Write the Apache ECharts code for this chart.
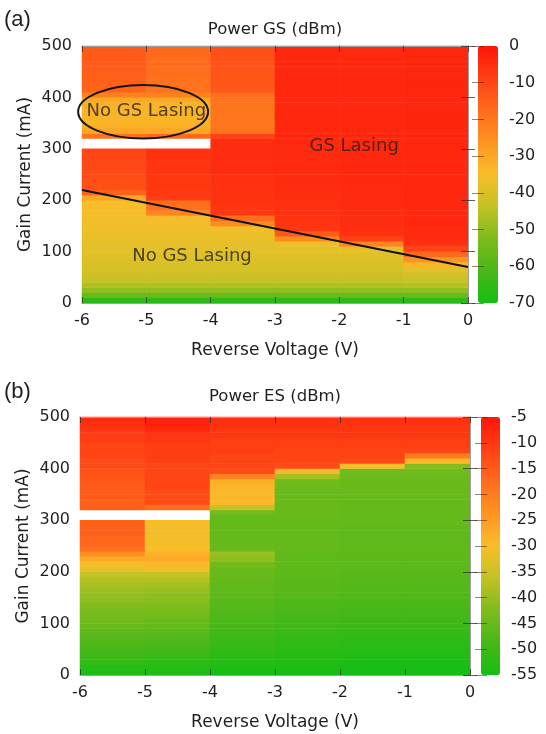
<!DOCTYPE html>
<html>
<head>
<meta charset="utf-8">
<script src="https://cdn.jsdelivr.net/npm/echarts@6/dist/echarts.min.js"></script>
<style>
  html, body { margin: 0; padding: 0; background: #ffffff; }
  #chart { width: 546px; height: 734px; }
</style>
</head>
<body>
<div id="chart"></div>
<script>
// Reverse-voltage columns (each block spans one volt, starting at the listed value)
const voltageCols = ['-6', '-5', '-4', '-3', '-2', '-1'];
// Gain-current rows, 10 mA steps (lower edge of each row)
const currentRows = [0, 10, 20, 30, 40, 50, 60, 70, 80, 90,
  100, 110, 120, 130, 140, 150, 160, 170, 180, 190,
  200, 210, 220, 230, 240, 250, 260, 270, 280, 290,
  300, 310, 320, 330, 340, 350, 360, 370, 380, 390,
  400, 410, 420, 430, 440, 450, 460, 470, 480, 490];

// Tick labels
const voltageTicks = [-6, -5, -4, -3, -2, -1, 0];
const currentTicks = [0, 100, 200, 300, 400, 500];
const gsScaleTicks = [-70, -60, -50, -40, -30, -20, -10, 0];
const esScaleTicks = [-55, -50, -45, -40, -35, -30, -25, -20, -15, -10, -5];

// Ground-state power (dBm), one array per voltage column, rows 0..490 mA (null = not measured)
const gsPowerM6 = [-66, -56, -50, -46, -43.5, -42, -41, -40, -39.5, -39,
  -38.5, -38, -37.5, -37, -36.5, -36.5, -36, -35.5, -35, -35,
  -30, -16, -12, -11.5, -11, -11, -10.5, -10.5, -10, -10,
  null, null, -19, -30, -32, -33, -33, -33, -32, -31,
  -22, -16, -15.5, -15, -15, -14.5, -14.5, -14, -14, -13.5];
const gsPowerM5 = [-66, -56, -50, -46, -43.5, -42, -41, -40, -39.5, -39,
  -38.5, -38, -37.5, -37, -36.5, -36, -35.5, -23, -19, -18,
  -8, -7.5, -7, -7, -7, -6.5, -6.5, -6.5, -6, -6,
  null, null, -17, -30, -32, -33, -33, -33, -32, -31,
  -22, -19, -19, -18.5, -18, -18, -17.5, -17.5, -17, -17];
const gsPowerM4 = [-66, -56, -50, -46, -43.5, -42, -41, -40, -39.5, -39,
  -38.5, -38, -37.5, -37, -36, -24, -18, -7, -6.5, -6,
  -6, -6, -5.5, -5.5, -5.5, -5, -5, -5, -5, -5,
  -5, -5, -9, -19, -20, -20, -20, -20, -19.5, -19,
  -18, -13.5, -13, -13, -13, -12.5, -12.5, -12, -12, -12];
const gsPowerM3 = [-66, -56, -50, -46, -43.5, -42, -41, -40, -39.5, -39,
  -38, -37, -24, -14, -7, -6.5, -6, -6, -5.5, -5.5,
  -5, -5, -5, -5, -4.5, -4.5, -4.5, -4.5, -4.5, -4.5,
  -4.5, -4, -4, -4, -4, -4, -4, -4, -4, -4,
  -4, -4, -4, -4, -4, -4, -4, -4, -4, -4];
const gsPowerM2 = [-66, -56, -50, -46, -43.5, -42, -41, -40, -39.5, -38.5,
  -37.5, -23, -9, -6, -5.5, -5, -5, -5, -4.5, -4.5,
  -4.5, -4.5, -4.5, -4, -4, -4, -4, -4, -4, -4,
  -4, -4, -4, -4, -4, -4, -4, -4, -4, -4,
  -4, -4, -4, -4, -4, -4, -4, -4, -4.5, -4.5];
const gsPowerM1 = [-66, -56, -50, -45.5, -43, -41, -38.5, -33, -26, -17,
  -9, -6, -5, -4.5, -4.5, -4, -4, -4, -4, -4,
  -4, -4, -4, -4, -4, -4, -4, -4, -4, -4,
  -3.5, -3.5, -3.5, -3.5, -3.5, -3.5, -3.5, -3.5, -3.5, -3.5,
  -3.5, -3.5, -3.5, -3.5, -3.5, -3.5, -3.5, -3.5, -3.5, -3.5];

// Excited-state power (dBm)
const esPowerM6 = [-54, -53, -51.5, -50.5, -49.5, -48.5, -47.5, -47, -46, -45,
  -44, -43.5, -43, -42, -41, -40.5, -39.5, -38.5, -37.5, -36,
  -32, -30, -27, -23, -18, -17, -17, -16, -16, -16,
  null, null, -16, -16, -15, -15, -15, -15, -14, -14,
  -13, -13, -12, -12, -12, -11, -11, -10, -9, -8];
const esPowerM5 = [-54, -53, -52, -51, -50, -49, -48, -47.5, -46.5, -45.5,
  -45, -44, -43, -42.5, -41.5, -41, -40, -39, -37.5, -36,
  -31, -29, -27, -28, -30, -30.5, -30.5, -30.5, -30.5, -30,
  null, null, -18, -13, -13, -13, -12, -12, -12, -12,
  -12, -11, -11, -11, -11, -10, -10, -8, -7, -7];
const esPowerM4 = [-54.5, -54, -53, -52, -51.5, -51, -50.5, -50, -49.5, -49,
  -48.5, -48, -47.5, -47, -47, -46.5, -46, -46, -45.5, -45,
  -45, -44, -41, -40, -45, -45.5, -45.5, -45.5, -45.5, -45.5,
  -45.5, -44, -36, -29, -29, -29, -29, -28, -21, -13,
  -12, -12, -12, -11, -11, -11, -10, -10, -9, -9];
const esPowerM3 = [-54.5, -54, -53.5, -53, -52.5, -52, -51.5, -51, -50.5, -50,
  -49.5, -49, -48.5, -48, -48, -47.5, -47, -47, -46.5, -46.5,
  -46, -46, -46, -46, -45.5, -45.5, -45.5, -45.5, -45.5, -45.5,
  -45, -45, -45, -45, -45, -45, -44.5, -44, -39, -29,
  -13, -12, -12, -12, -11, -11, -10, -10, -9, -9];
const esPowerM2 = [-55, -54.5, -54, -53.5, -53, -52.5, -52, -51.5, -51, -50.5,
  -50, -49.5, -49, -48.5, -48, -48, -47.5, -47.5, -47, -47,
  -46.5, -46.5, -46.5, -46, -46, -46, -46, -46, -46, -45.5,
  -45.5, -45.5, -45.5, -45.5, -45, -45, -45, -45, -44.5, -44,
  -30, -13, -12, -12, -11, -11, -10, -10, -9.5, -9];
const esPowerM1 = [-55, -54.5, -54, -53.5, -53, -52.5, -52, -51.5, -51, -50.5,
  -50, -49.5, -49, -48.5, -48, -48, -47.5, -47.5, -47, -47,
  -46.5, -46.5, -46.5, -46, -46, -46, -46, -46, -46, -45.5,
  -45.5, -45.5, -45.5, -45.5, -45, -45, -45, -45, -44.5, -44,
  -42, -29, -20, -12, -11, -11, -10, -10, -9.5, -9];

// Lasing threshold boundary (V, mA) and region annotations
const thresholdLine = [[-6, 220], [0, 70]];
const noLasingEllipse = [[-5.05, 372, 1.01, 52]]; // centre V, centre mA, half-width V, half-height mA
const regionLabels = [
  { name: 'No GS Lasing', value: [-5.0, 372] },
  { name: 'GS Lasing', value: [-1.77, 305] },
  { name: 'No GS Lasing', value: [-4.29, 90] }
];

const gsColumns = [gsPowerM6, gsPowerM5, gsPowerM4, gsPowerM3, gsPowerM2, gsPowerM1];
const esColumns = [esPowerM6, esPowerM5, esPowerM4, esPowerM3, esPowerM2, esPowerM1];

function toCells(columns) {
  const cells = [];
  columns.forEach((col, i) => {
    col.forEach((v, j) => {
      cells.push([i, j, v === null ? '-' : v]);
    });
  });
  return cells;
}

const FONT = 'DejaVu Sans';
const TXT = '#1f1f1f';
// green -> yellow -> orange -> red scale
const palette = ['#14be14', '#49b718', '#7dbc1d', '#c2c224', '#f8be2a',
                 '#fd9421', '#ff6c1c', '#ff4013', '#ff140a'];

const tickStyle = { color: 'rgba(45,45,45,0.75)', width: 1 };
const frameLine = { show: true, lineStyle: { color: '#a0a0a0', width: 1 } };
const labelStyle = { fontFamily: FONT, fontSize: 16, color: TXT };
const nameStyle = { fontFamily: FONT, fontSize: 17, color: TXT };

function catAxis(grid, data) {
  return { type: 'category', gridIndex: grid, data: data, show: false, boundaryGap: true };
}
function voltAxis(grid, pos, withLabels) {
  return {
    type: 'value', gridIndex: grid, position: pos, min: voltageTicks[0],
    max: voltageTicks[voltageTicks.length - 1], interval: 1, z: 10,
    axisLine: frameLine,
    axisTick: { show: true, inside: true, length: 6, lineStyle: tickStyle },
    axisLabel: Object.assign({ show: withLabels, margin: 10 }, labelStyle),
    splitLine: { show: false },
    name: withLabels ? 'Reverse Voltage (V)' : '',
    nameLocation: 'middle', nameGap: 39, nameMoveOverlap: false, nameTextStyle: nameStyle
  };
}
function currentAxis(grid, pos, withLabels) {
  return {
    type: 'value', gridIndex: grid, position: pos, min: currentTicks[0],
    max: currentTicks[currentTicks.length - 1], interval: 100, z: 10,
    axisLine: frameLine,
    axisTick: { show: true, inside: true, length: 7, lineStyle: tickStyle },
    axisLabel: Object.assign({ show: withLabels, margin: 10 }, labelStyle),
    splitLine: { show: false },
    name: withLabels ? 'Gain Current (mA)' : '',
    nameLocation: 'middle', nameGap: 48, nameRotate: 90, nameMoveOverlap: false, nameTextStyle: nameStyle
  };
}
function scaleAxis(grid, pos, ticks, withLabels) {
  return {
    type: 'value', gridIndex: grid, position: pos, min: ticks[0],
    max: ticks[ticks.length - 1], interval: ticks[1] - ticks[0], z: 10,
    axisLine: { show: false },
    axisTick: { show: true, inside: true, length: 6, lineStyle: { color: 'rgba(70,30,10,0.55)', width: 1 } },
    axisLabel: Object.assign({ show: withLabels, margin: 11 }, labelStyle),
    splitLine: { show: false }
  };
}
function hiddenAxis(grid) {
  return { type: 'value', gridIndex: grid, show: false, min: 0, max: 1 };
}

const chart = echarts.init(document.getElementById('chart'), null, { renderer: 'canvas' });

chart.setOption({
  animation: false,
  backgroundColor: '#ffffff',
  grid: [
    { left: 82, top: 46, width: 386, height: 257 },
    { left: 478, top: 46, width: 20, height: 257 },
    { left: 80, top: 417, width: 390, height: 258 },
    { left: 481, top: 417, width: 19, height: 258 }
  ],
  xAxis: [
    catAxis(0, voltageCols),
    voltAxis(0, 'bottom', true),
    voltAxis(0, 'top', false),
    hiddenAxis(1),
    catAxis(2, voltageCols),
    voltAxis(2, 'bottom', true),
    voltAxis(2, 'top', false),
    hiddenAxis(3)
  ],
  yAxis: [
    catAxis(0, currentRows),
    currentAxis(0, 'left', true),
    currentAxis(0, 'right', false),
    scaleAxis(1, 'right', gsScaleTicks, true),
    scaleAxis(1, 'left', gsScaleTicks, false),
    catAxis(2, currentRows),
    currentAxis(2, 'left', true),
    currentAxis(2, 'right', false),
    scaleAxis(3, 'right', esScaleTicks, true),
    scaleAxis(3, 'left', esScaleTicks, false)
  ],
  visualMap: [
    {
      type: 'continuous', seriesIndex: 0, min: gsScaleTicks[0], max: gsScaleTicks[gsScaleTicks.length - 1],
      left: 478, top: 46, itemWidth: 20, itemHeight: 257, padding: 0,
      calculable: false, realtime: false, text: null, hoverLink: false,
      inRange: { color: palette }
    },
    {
      type: 'continuous', seriesIndex: 4, min: esScaleTicks[0], max: esScaleTicks[esScaleTicks.length - 1],
      left: 481, top: 417, itemWidth: 19, itemHeight: 258, padding: 0,
      calculable: false, realtime: false, text: null, hoverLink: false,
      inRange: { color: palette }
    }
  ],
  graphic: [
    { type: 'text', x: 4, y: 20, style: { text: '(a)', font: '22px "Liberation Sans"', fill: TXT, verticalAlign: 'middle' } },
    { type: 'text', x: 275, y: 30, style: { text: 'Power GS (dBm)', font: '16.5px "DejaVu Sans"', fill: TXT, align: 'center', verticalAlign: 'middle' } },
    { type: 'text', x: 4, y: 392, style: { text: '(b)', font: '22px "Liberation Sans"', fill: TXT, verticalAlign: 'middle' } },
    { type: 'text', x: 275, y: 397, style: { text: 'Power ES (dBm)', font: '16.5px "DejaVu Sans"', fill: TXT, align: 'center', verticalAlign: 'middle' } }
  ],
  series: [
    {
      type: 'heatmap', name: 'Power GS', xAxisIndex: 0, yAxisIndex: 0,
      data: toCells(gsColumns), itemStyle: { borderWidth: 0 },
      emphasis: { disabled: true }
    },
    {
      type: 'line', xAxisIndex: 1, yAxisIndex: 1, data: thresholdLine,
      symbol: 'none', z: 5, lineStyle: { color: '#111111', width: 2 }
    },
    {
      type: 'custom', xAxisIndex: 1, yAxisIndex: 1, data: noLasingEllipse, z: 6,
      renderItem: function (params, api) {
        const c = api.coord([api.value(0), api.value(1)]);
        const s = api.size([api.value(2), api.value(3)]);
        return {
          type: 'ellipse',
          shape: { cx: c[0], cy: c[1], rx: s[0], ry: s[1] },
          style: { fill: 'none', stroke: '#161616', lineWidth: 2 }
        };
      }
    },
    {
      type: 'scatter', xAxisIndex: 1, yAxisIndex: 1, data: regionLabels, symbolSize: 0, z: 7,
      label: {
        show: true, position: 'inside', formatter: function (p) { return p.name; },
        fontFamily: FONT, fontSize: 18, color: '#262218'
      },
      emphasis: { disabled: true }
    },
    {
      type: 'heatmap', name: 'Power ES', xAxisIndex: 4, yAxisIndex: 5,
      data: toCells(esColumns), itemStyle: { borderWidth: 0 },
      emphasis: { disabled: true }
    }
  ]
});
</script>
</body>
</html>
